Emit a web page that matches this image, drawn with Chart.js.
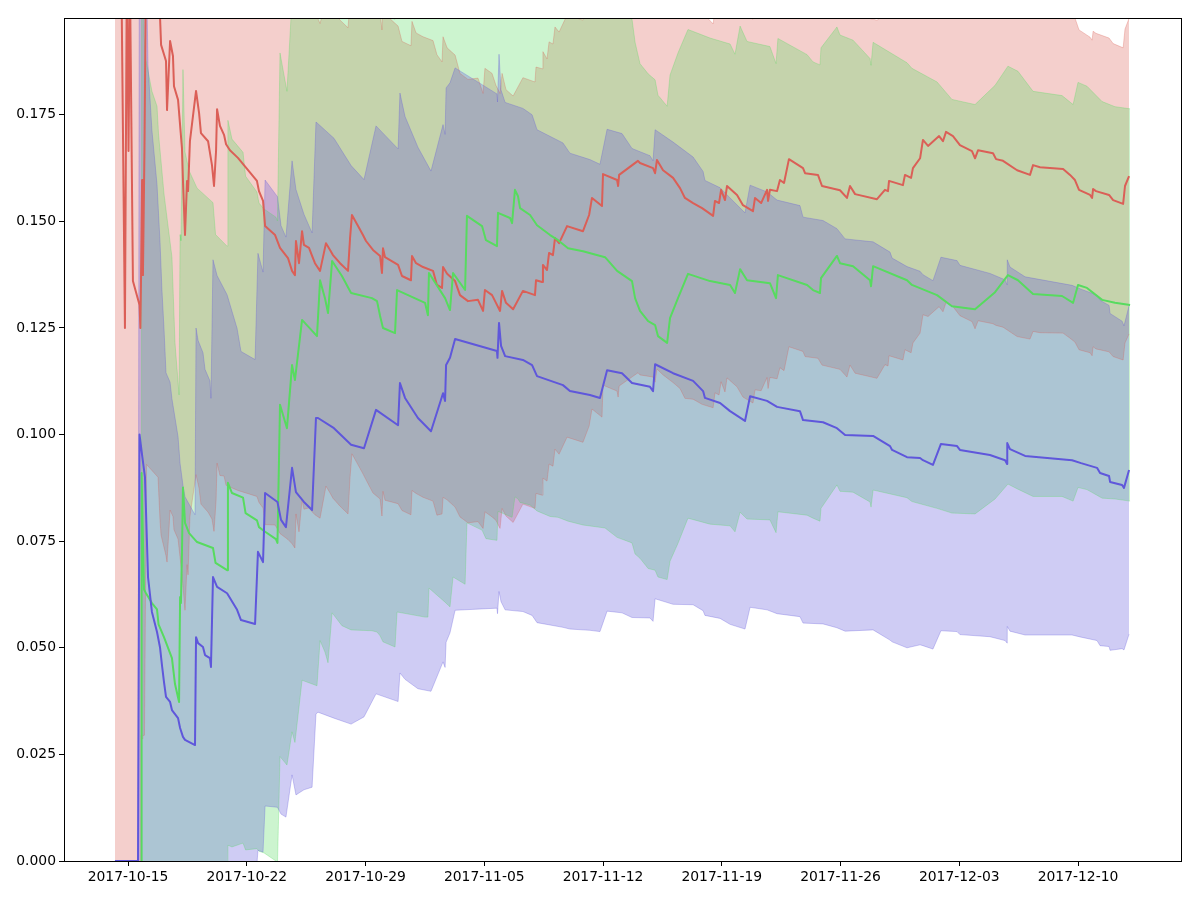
<!DOCTYPE html>
<html><head><meta charset="utf-8">
<script src="https://cdn.jsdelivr.net/npm/chart.js@4.4.1/dist/chart.umd.min.js"></script>
<style>html,body{margin:0;padding:0;background:#fff}#wrap{width:1200px;height:900px}</style>
</head><body><div id="wrap"><canvas id="c" width="1200" height="900"></canvas></div>
<script>
// x values are days after 2017-10-15
const xTickValues=[0,7,14,21,28,35,42,49,56];
const xTickLabels=['2017-10-15','2017-10-22','2017-10-29','2017-11-05','2017-11-12','2017-11-19','2017-11-26','2017-12-03','2017-12-10'];
const yTickValues=[0,0.025,0.05,0.075,0.1,0.125,0.15,0.175];

const redX=[-0.77,-0.41,-0.18,-0.06,0.03,0.12,0.29,0.68,0.73,0.77,
0.83,0.88,0.97,1.09,1.77,1.89,1.95,2.24,2.30,2.48,
2.65,2.71,2.95,3.18,3.24,3.36,3.48,3.54,3.65,4.01,
4.19,4.30,4.72,4.95,5.07,5.19,5.25,5.42,5.66,5.78,
6.01,6.48,7.60,7.72,7.96,8.08,8.67,8.96,9.43,9.67,
9.84,9.90,10.08,10.26,10.37,10.67,10.85,11.02,11.32,11.67,
11.91,12.08,12.50,12.97,13.09,13.20,13.56,13.85,14.03,14.44,
14.86,14.97,15.03,15.15,15.92,16.15,16.68,16.74,16.98,17.39,
17.98,18.21,18.51,18.57,18.81,19.28,19.57,20.04,20.63,20.93,
21.04,21.46,21.69,21.93,22.05,22.28,22.70,23.28,23.99,24.05,
24.41,24.46,24.70,24.82,25.05,25.17,25.41,25.88,26.82,27.18,
27.35,27.94,28.00,28.83,28.89,28.95,30.06,30.18,30.95,31.07,
31.18,31.54,32.13,32.54,32.83,33.31,33.84,34.49,34.60,34.84,
34.96,35.19,35.31,35.90,36.25,36.84,36.96,37.32,37.67,37.73,
37.84,38.26,38.43,38.67,38.96,39.79,39.91,40.67,40.91,41.97,
42.38,42.56,42.86,44.15,44.62,44.80,44.86,45.68,45.80,46.16,
46.27,46.69,46.86,47.16,47.81,48.04,48.22,48.63,49.04,49.75,
49.93,50.11,50.99,51.17,51.58,52.41,53.17,53.35,53.76,55.12,
55.53,55.82,56.06,56.71,56.83,56.89,57.06,57.83,58.07,58.66,
58.77,59.01];
const redY=[0.24,0.215,0.125,0.215,0.1665,0.205,0.136,0.1304,0.125,0.1374,
0.1597,0.1374,0.1665,0.225,0.215,0.1977,0.1914,0.1876,0.1761,0.1923,
0.1888,0.1817,0.1785,0.1672,0.1595,0.1468,0.1595,0.1571,0.1688,0.1806,
0.1754,0.1707,0.1688,0.1632,0.1583,0.1665,0.1763,0.1724,0.1703,0.1681,
0.1667,0.1649,0.1595,0.1571,0.1548,0.1489,0.1468,0.1438,0.1414,0.1384,
0.1374,0.1454,0.1402,0.1477,0.1445,0.1438,0.1419,0.1402,0.1384,0.1449,
0.1433,0.1421,0.1402,0.1384,0.1461,0.1515,0.1489,0.1468,0.1454,0.1433,
0.1419,0.1379,0.1437,0.1416,0.1398,0.1372,0.1362,0.1419,0.1402,0.1393,
0.1384,0.1351,0.1344,0.1393,0.1377,0.1360,0.1327,0.1313,0.1316,0.1290,
0.1339,0.1327,0.1309,0.1290,0.1337,0.1309,0.1294,0.1337,0.1327,0.1362,
0.1358,0.1398,0.1386,0.1426,0.1421,0.1461,0.1449,0.1489,0.1477,0.1515,
0.1555,0.1536,0.1611,0.1597,0.1583,0.1609,0.1642,0.1637,0.1625,0.1613,
0.1644,0.1620,0.1602,0.1578,0.1555,0.1543,0.1531,0.1513,0.1548,0.1543,
0.1574,0.1550,0.1583,0.1562,0.1538,0.1524,0.1555,0.1543,0.1574,0.1548,
0.1574,0.1571,0.1597,0.1590,0.1646,0.1625,0.1613,0.1609,0.1583,0.1573,
0.1555,0.1583,0.1564,0.1552,0.1574,0.1571,0.1595,0.1585,0.1609,0.1602,
0.1625,0.1648,0.1691,0.1677,0.1700,0.1688,0.1710,0.1700,0.1679,0.1665,
0.1648,0.1667,0.1660,0.1646,0.1642,0.1620,0.1609,0.1632,0.1627,0.1623,
0.1609,0.1597,0.1574,0.1562,0.1555,0.1576,0.1571,0.1562,0.1550,0.1541,
0.1583,0.1606];
const redErr=[0.30,0.30,0.30,0.30,0.30,0.30,0.30,0.30,0.30,0.108,
0.131,0.108,0.137,0.132,0.125,0.118,0.115,0.116,0.106,0.110,
0.108,0.104,0.103,0.100,0.095,0.088,0.090,0.090,0.088,0.090,
0.088,0.087,0.087,0.083,0.081,0.082,0.083,0.082,0.080,0.080,
0.079,0.078,0.074,0.073,0.072,0.070,0.068,0.067,0.066,0.064,
0.064,0.064,0.063,0.063,0.062,0.061,0.060,0.059,0.058,0.057,
0.057,0.057,0.057,0.057,0.056,0.056,0.056,0.056,0.056,0.057,
0.057,0.057,0.057,0.057,0.056,0.055,0.055,0.055,0.054,0.054,
0.054,0.054,0.053,0.054,0.053,0.053,0.052,0.052,0.052,0.051,
0.052,0.052,0.051,0.051,0.051,0.050,0.050,0.050,0.050,0.050,
0.050,0.050,0.0495,0.0495,0.0495,0.0495,0.0495,0.0495,0.0495,0.0495,
0.0495,0.0495,0.0495,0.0495,0.0495,0.0495,0.0497,0.0497,0.049,0.049,
0.049,0.048,0.048,0.047,0.047,0.046,0.046,0.045,0.045,0.045,
0.045,0.045,0.045,0.045,0.045,0.045,0.045,0.044,0.044,0.044,
0.044,0.044,0.044,0.044,0.044,0.043,0.043,0.043,0.042,0.042,
0.042,0.042,0.042,0.042,0.041,0.041,0.041,0.041,0.041,0.041,
0.041,0.041,0.041,0.040,0.040,0.040,0.040,0.040,0.040,0.040,
0.040,0.040,0.040,0.039,0.039,0.039,0.0385,0.039,0.0388,0.0385,
0.0383,0.038,0.0375,0.037,0.037,0.037,0.037,0.0368,0.0367,0.0366,
0.0368,0.037];

const greenX=[0.77,0.80,0.94,1.06,1.41,1.71,1.80,2.12,2.59,2.77,
3.01,3.07,3.12,3.18,3.24,3.36,3.60,4.07,5.01,5.16,
5.84,5.89,6.13,6.78,6.93,7.60,7.72,8.02,8.72,8.81,
8.96,9.37,9.67,9.84,10.26,11.14,11.32,11.61,11.79,12.03,
12.61,13.15,14.38,14.68,14.86,15.03,15.74,15.86,17.51,17.68,
17.74,18.69,18.98,19.16,19.87,19.98,20.87,21.10,21.75,21.81,
22.52,22.64,22.81,22.99,23.11,23.70,24.11,24.88,25.35,25.94,
26.82,28.12,28.83,29.71,29.89,30.18,30.66,31.07,31.24,31.78,
31.95,32.42,33.01,34.31,35.49,35.78,36.08,36.49,37.84,38.20,
38.31,40.03,40.38,40.79,40.85,41.79,41.97,42.74,43.74,43.80,
43.92,45.92,46.21,47.69,48.57,49.93,51.11,51.87,52.46,53.35,
55.06,55.71,56.00,56.53,57.42,58.18,59.07];
const greenY=[0.0,0.091,0.0637,0.0628,0.0605,0.059,0.0555,0.0525,0.0476,0.0415,
0.0373,0.0619,0.0605,0.0722,0.0876,0.0793,0.0769,0.0748,0.0734,0.0699,
0.0682,0.0887,0.0863,0.0852,0.0816,0.0799,0.0783,0.0774,0.0755,0.0746,
0.107,0.1015,0.1163,0.1128,0.1269,0.1231,0.1362,0.132,0.1285,0.1407,
0.1372,0.1332,0.132,0.1313,0.1278,0.125,0.1238,0.1339,0.1309,0.128,
0.1379,0.132,0.1292,0.1379,0.1339,0.1513,0.1489,0.1456,0.1442,0.152,
0.1508,0.1496,0.1574,0.1559,0.1531,0.1515,0.1491,0.1468,0.1456,0.1437,
0.143,0.1416,0.1384,0.136,0.132,0.129,0.1266,0.1257,0.1231,0.1215,
0.1273,0.132,0.1377,0.136,0.1351,0.1332,0.1388,0.1362,0.1355,0.132,
0.1374,0.1351,0.1339,0.1332,0.1367,0.1419,0.1402,0.1395,0.1362,0.1348,
0.1395,0.1362,0.1351,0.1327,0.1301,0.1294,0.1334,0.1374,0.1362,0.133,
0.1325,0.1309,0.1351,0.1344,0.1316,0.1309,0.1304];
const greenErr=[0.0,0.14,0.13,0.125,0.12,0.118,0.115,0.104,0.094,0.080,
0.072,0.085,0.085,0.090,0.098,0.087,0.085,0.083,0.081,0.077,
0.076,0.085,0.083,0.081,0.079,0.077,0.076,0.0755,0.0755,0.0755,
0.0825,0.079,0.086,0.085,0.0845,0.082,0.0845,0.083,0.082,0.0825,
0.082,0.079,0.078,0.0776,0.075,0.0736,0.0736,0.0755,0.0737,0.0708,
0.0739,0.0713,0.0696,0.0713,0.069,0.072,0.0713,0.070,0.069,0.070,
0.070,0.069,0.072,0.071,0.069,0.068,0.067,0.066,0.065,0.064,
0.0642,0.0635,0.0625,0.0614,0.060,0.058,0.058,0.0575,0.0565,0.0555,
0.057,0.0575,0.0573,0.057,0.0565,0.056,0.057,0.056,0.0555,0.055,
0.0555,0.054,0.0535,0.0535,0.054,0.0537,0.0535,0.053,0.052,0.0518,
0.0525,0.051,0.0508,0.050,0.0485,0.048,0.0485,0.049,0.049,0.0475,
0.047,0.0465,0.0475,0.0473,0.0465,0.046,0.046];

const blueX=[-0.77,0.59,0.68,0.83,1.00,1.18,1.41,1.71,1.89,2.00,
2.12,2.24,2.48,2.59,2.95,3.07,3.24,3.36,3.95,4.01,
4.13,4.42,4.54,4.83,4.89,5.01,5.25,5.84,6.43,6.66,
7.49,7.66,7.96,8.08,8.81,9.02,9.31,9.67,9.90,10.37,
10.85,11.08,11.20,12.14,13.15,13.91,14.62,15.92,16.03,16.33,
17.09,17.86,18.57,18.69,18.75,18.98,19.28,21.75,21.78,21.87,
21.99,22.23,23.28,23.82,24.11,25.64,26.05,27.23,27.82,28.24,
29.12,29.71,30.77,30.95,31.07,32.13,33.31,33.90,34.01,34.90,
35.49,36.37,36.67,37.67,38.26,39.61,39.79,40.97,41.79,42.27,
43.92,44.92,45.04,45.92,46.69,46.86,47.45,47.92,48.87,49.04,
50.81,51.70,51.82,51.83,51.99,52.88,55.65,56.18,57.12,57.30,
57.83,57.89,58.60,58.71,59.01];
const blueY=[0,0,0.100,0.0952,0.090,0.0666,0.0584,0.0537,0.050,0.046,
0.042,0.0385,0.0373,0.0354,0.0335,0.0312,0.0291,0.0284,0.0272,0.0525,
0.0511,0.0502,0.0483,0.0476,0.0455,0.0666,0.0643,0.0628,0.0589,0.0565,
0.0556,0.0725,0.0701,0.0863,0.0842,0.080,0.0783,0.0922,0.0865,0.0842,
0.0823,0.1039,0.1039,0.1015,0.0976,0.0968,0.1058,0.1022,0.1121,0.1086,
0.1039,0.1008,0.1097,0.1079,0.1163,0.118,0.1224,0.1196,0.118,0.1262,
0.1208,0.1184,0.1175,0.1163,0.1137,0.1116,0.1102,0.1093,0.1086,0.1151,
0.1144,0.1121,0.1112,0.1102,0.1165,0.1144,0.1126,0.1102,0.1086,0.1074,
0.1055,0.1032,0.109,0.1079,0.1065,0.1055,0.1034,0.1029,0.1015,0.0999,
0.0997,0.0973,0.0964,0.0947,0.0945,0.094,0.0929,0.0978,0.0973,0.0964,
0.0952,0.094,0.0931,0.098,0.0966,0.095,0.094,0.0933,0.0922,0.091,
0.0903,0.0889,0.0882,0.0875,0.0917];
const blueErr=[0,0,0.16,0.15,0.14,0.12,0.113,0.105,0.095,0.088,
0.083,0.076,0.075,0.073,0.066,0.062,0.059,0.057,0.054,0.0725,
0.071,0.069,0.067,0.065,0.063,0.0744,0.073,0.070,0.066,0.063,
0.062,0.070,0.068,0.0734,0.0716,0.069,0.068,0.072,0.071,0.0675,
0.065,0.0694,0.069,0.068,0.0655,0.063,0.0666,0.0648,0.068,0.066,
0.0635,0.061,0.063,0.0625,0.065,0.0645,0.0636,0.0603,0.060,0.063,
0.060,0.0595,0.059,0.0587,0.0578,0.0568,0.0558,0.0552,0.0548,0.0565,
0.0562,0.0550,0.0542,0.054,0.055,0.0542,0.0525,0.0515,0.051,0.0505,
0.050,0.0488,0.0495,0.049,0.0485,0.0482,0.0476,0.0473,0.0468,0.046,
0.0455,0.0455,0.045,0.0447,0.0438,0.0435,0.0432,0.0438,0.0435,0.0433,
0.0426,0.0423,0.042,0.0430,0.0427,0.042,0.041,0.0408,0.0405,0.0405,
0.040,0.0395,0.0384,0.038,0.0385];

const series=[
  {x:redX,y:redY,e:redErr,c:[219,95,87]},
  {x:greenX,y:greenY,e:greenErr,c:[87,219,95]},
  {x:blueX,y:blueY,e:blueErr,c:[95,87,219]}
];
function rgba(c,a){return 'rgba('+c[0]+','+c[1]+','+c[2]+','+a+')';}
function pts(xs,ys){return xs.map((x,i)=>({x:x,y:ys[i]}));}
function bound(xs,ys,es,s){return xs.map((x,i)=>({x:x,y:ys[i]+s*es[i]}));}

const datasets=[];
// bands: red drawn first (highest order), blue last (on top), like matplotlib's stacking
series.forEach((s,k)=>{
  datasets.push({data:bound(s.x,s.y,s.e,-1),borderColor:rgba(s.c,0.3),borderWidth:1,pointRadius:0,fill:false,order:12-k,clip:0});
  datasets.push({data:bound(s.x,s.y,s.e,1),borderColor:rgba(s.c,0.3),borderWidth:1,pointRadius:0,fill:2*k,backgroundColor:rgba(s.c,0.3),order:12-k,clip:0});
});
series.forEach((s,k)=>{
  datasets.push({data:pts(s.x,s.y),borderColor:rgba(s.c,1),borderWidth:2,pointRadius:0,fill:false,order:3-k,clip:0,borderJoinStyle:'round'});
});

const frame={id:'frame',afterDraw(chart){
  const {ctx,chartArea:a}=chart;
  ctx.save();ctx.strokeStyle='#000';ctx.lineWidth=1;
  ctx.strokeRect(Math.round(a.left)+0.5,Math.round(a.top)+0.5,Math.round(a.right-a.left)-1,Math.round(a.bottom-a.top));
  ctx.restore();
}};
const font={family:'DejaVu Sans',size:13.9};
new Chart(document.getElementById('c'),{
  type:'line',
  data:{datasets:datasets},
  plugins:[frame],
  options:{
    responsive:false,animation:false,events:[],
    layout:{padding:{top:18,right:18,left:0,bottom:0}},
    plugins:{legend:{display:false},tooltip:{enabled:false},filler:{drawTime:'beforeDatasetsDraw',propagate:false}},
    elements:{line:{tension:0},point:{radius:0}},
    scales:{
      x:{type:'linear',min:-3.773,max:62.13,
        afterBuildTicks:ax=>{ax.ticks=xTickValues.map(v=>({value:v}));},
        afterFit:ax=>{ax.height=39;},
        ticks:{callback:v=>{const i=xTickValues.indexOf(v);return i>=0?xTickLabels[i]:'';},color:'#000',font:font,padding:3,maxRotation:0,autoSkip:false},
        grid:{drawOnChartArea:false,drawTicks:true,tickLength:5,color:'#000',lineWidth:1},
        border:{display:false}},
      y:{type:'linear',min:0,max:0.1977,
        afterBuildTicks:ax=>{ax.ticks=yTickValues.map(v=>({value:v}));},
        afterFit:ax=>{ax.width=64;},
        ticks:{callback:v=>Number(v).toFixed(3),color:'#000',font:font,padding:3},
        grid:{drawOnChartArea:false,drawTicks:true,tickLength:5,color:'#000',lineWidth:1},
        border:{display:false}}
    }
  }
});
</script></body></html>
